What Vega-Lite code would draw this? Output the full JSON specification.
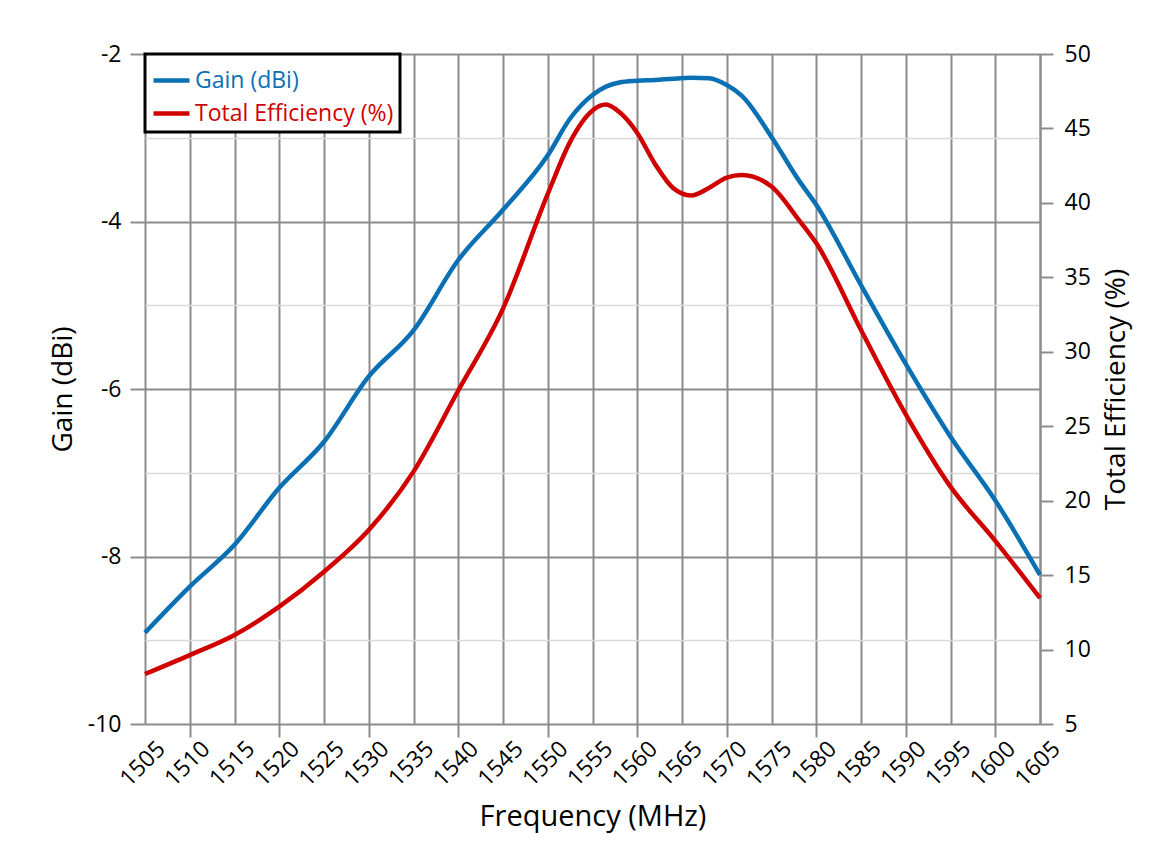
{
  "$schema": "https://vega.github.io/schema/vega-lite/v6.json",
  "width": 895,
  "height": 670,
  "autosize": "none",
  "padding": {"left": 145, "top": 54, "right": 126, "bottom": 129},
  "background": "white",
  "config": {
    "view": {"stroke": null},
    "font": "Open Sans",
    "axis": {
      "labelFont": "Open Sans",
      "titleFont": "Open Sans",
      "labelColor": "black",
      "titleColor": "black",
      "labelFontSize": 23,
      "titleFontSize": 28,
      "titleFontWeight": "normal",
      "tickColor": "#8c8c8c",
      "tickWidth": 2,
      "tickSize": 14,
      "domainColor": "#8c8c8c",
      "domainWidth": 2
    },
    "legend": {"labelFont": "Open Sans"}
  },
  "data": {
    "values": [
      {"freq": 1505, "gain": -8.91, "eff": 8.36},
      {"freq": 1510, "gain": -8.36, "eff": 9.63},
      {"freq": 1515, "gain": -7.86, "eff": 10.98},
      {"freq": 1520, "gain": -7.18, "eff": 12.88},
      {"freq": 1525, "gain": -6.63, "eff": 15.23},
      {"freq": 1530, "gain": -5.85, "eff": 18.03},
      {"freq": 1535, "gain": -5.30, "eff": 21.95},
      {"freq": 1540, "gain": -4.46, "eff": 27.4},
      {"freq": 1545, "gain": -3.86, "eff": 32.9},
      {"freq": 1550, "gain": -3.21, "eff": 40.6},
      {"freq": 1552.5, "gain": -2.77, "eff": 44.1},
      {"freq": 1555, "gain": -2.49, "eff": 46.2},
      {"freq": 1556.5, "gain": -2.39, "eff": 46.6},
      {"freq": 1558, "gain": -2.34, "eff": 46.1},
      {"freq": 1560, "gain": -2.32, "eff": 44.7},
      {"freq": 1562, "gain": -2.31, "eff": 42.6},
      {"freq": 1564, "gain": -2.295, "eff": 41.0},
      {"freq": 1566, "gain": -2.285, "eff": 40.5},
      {"freq": 1568, "gain": -2.29, "eff": 41.0},
      {"freq": 1570, "gain": -2.37, "eff": 41.7},
      {"freq": 1571.7, "gain": -2.50, "eff": 41.87},
      {"freq": 1575, "gain": -2.99, "eff": 41.1},
      {"freq": 1578, "gain": -3.50, "eff": 38.9},
      {"freq": 1580, "gain": -3.80, "eff": 37.3},
      {"freq": 1585, "gain": -4.76, "eff": 31.46},
      {"freq": 1590, "gain": -5.70, "eff": 25.8},
      {"freq": 1595, "gain": -6.57, "eff": 20.94},
      {"freq": 1600, "gain": -7.33, "eff": 17.3},
      {"freq": 1605, "gain": -8.22, "eff": 13.46}
    ]
  },
  "encoding": {
    "x": {
      "field": "freq",
      "type": "quantitative",
      "scale": {"domain": [1505, 1605], "nice": false, "zero": false},
      "axis": {
        "title": "Frequency (MHz)",
        "titleFontSize": 29,
        "labelFontSize": 23,
        "values": [1505, 1510, 1515, 1520, 1525, 1530, 1535, 1540, 1545, 1550, 1555, 1560, 1565, 1570, 1575, 1580, 1585, 1590, 1595, 1600, 1605],
        "format": "d",
        "labelAngle": -45,
        "labelAlign": "right",
        "labelBaseline": "middle",
        "labelOffset": 16,
        "labelPadding": 8,
        "labelOverlap": false,
        "labelFlush": false,
        "tickSize": 13,
        "tickOpacity": {"condition": {"test": "datum.value % 10 === 0", "value": 1}, "value": 0},
        "domain": false,
        "grid": true,
        "gridColor": "#8c8c8c",
        "gridWidth": 2,
        "titlePadding": 12,
        "encode": {"labels": {"update": {"fontSize": {"value": 23}}}}
      }
    }
  },
  "layer": [
    {
      "mark": {"type": "line", "interpolate": "monotone", "strokeWidth": 4.5},
      "encoding": {
        "y": {
          "field": "gain",
          "type": "quantitative",
          "scale": {"domain": [-10, -2], "nice": false, "zero": false},
          "axis": {
            "orient": "left",
            "title": "Gain (dBi)",
            "labelFontSize": 23,
            "values": [-10, -9, -8, -7, -6, -5, -4, -3, -2],
            "labelExpr": "datum.value % 2 === 0 ? toString(datum.value) : ''",
            "tickOpacity": {"condition": {"test": "datum.value % 2 !== 0", "value": 0}, "value": 1},
            "tickSize": 15,
            "domain": false,
            "grid": true,
            "gridColor": {"condition": {"test": "datum.value % 2 === 0", "value": "#8c8c8c"}, "value": "#d9d9d9"},
            "gridWidth": {"condition": {"test": "datum.value % 2 === 0", "value": 2}, "value": 1.5},
            "labelPadding": 9,
            "titlePadding": 10,
            "encode": {"labels": {"update": {"fontSize": {"value": 23}}}}
          }
        },
        "color": {
          "datum": "Gain (dBi)",
          "type": "nominal",
          "scale": {"domain": ["Gain (dBi)", "Total Efficiency (%)"], "range": ["#0a70b4", "#d10000"]},
          "legend": {
            "title": null,
            "orient": "top-left",
            "offset": 0,
            "fillColor": "white",
            "strokeColor": "black",
            "padding": 6,
            "symbolType": "stroke",
            "symbolStrokeWidth": 4.5,
            "symbolSize": 1296,
            "labelFontSize": 23,
            "labelLimit": 400,
            "labelOffset": 3,
            "rowPadding": -6,
            "encode": {
              "legend": {"update": {"strokeWidth": {"value": 3}}},
              "labels": {"update": {"fill": {"scale": "color", "field": "value"}}}
            }
          }
        }
      }
    },
    {
      "mark": {"type": "line", "interpolate": "monotone", "strokeWidth": 4.5},
      "encoding": {
        "y": {
          "field": "eff",
          "type": "quantitative",
          "scale": {"domain": [5, 50], "nice": false, "zero": false},
          "axis": {
            "orient": "right",
            "title": "Total Efficiency (%)",
            "titleAngle": 270,
            "titleBaseline": "top",
            "labelFontSize": 23,
            "values": [5, 10, 15, 20, 25, 30, 35, 40, 45, 50],
            "grid": false,
            "domain": true,
            "tickSize": 13,
            "labelPadding": 11,
            "titlePadding": 12,
            "encode": {"labels": {"update": {"fontSize": {"value": 23}}}}
          }
        },
        "color": {"datum": "Total Efficiency (%)", "type": "nominal"}
      }
    }
  ],
  "resolve": {"scale": {"y": "independent"}}
}
